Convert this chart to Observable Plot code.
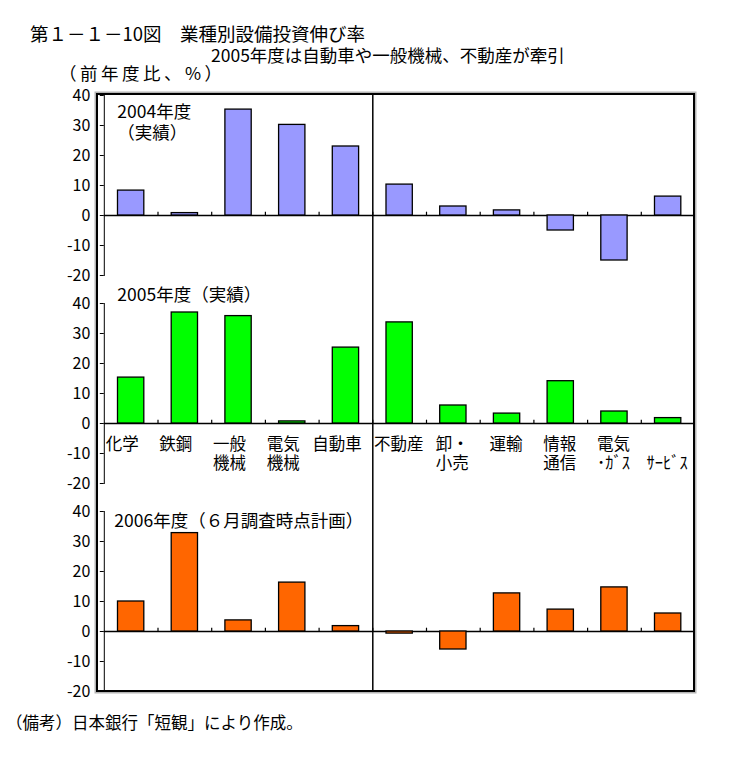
<!DOCTYPE html>
<html><head><meta charset="utf-8">
<script src="https://cdn.jsdelivr.net/npm/d3@7"></script>
<script src="https://cdn.jsdelivr.net/npm/@observablehq/plot@0.6"></script>
<style>
body{margin:0;background:#fff;}
#wrap{position:relative;width:734px;height:762px;background:#fff;overflow:hidden;font-family:"Noto Sans CJK JP",sans-serif;color:#000;}
.t{position:absolute;white-space:pre;line-height:1;}
</style></head><body>
<div id="wrap">
<div class="t" style="left:30px;top:24px;font-size:18.5px;">第１－１－10図　業種別設備投資伸び率</div>
<div class="t" style="left:211px;top:46px;font-size:17.5px;">2005年度は自動車や一般機械、不動産が牽引</div>
<div class="t" style="left:59px;top:64px;font-size:17.5px;letter-spacing:3.5px;">（前年度比、%）</div>
<div id="chart" style="position:absolute;left:0;top:0"></div>
<div id="frame" style="position:absolute;left:96px;top:92.5px;width:599px;height:599px;box-sizing:border-box;border:2px solid #000;box-shadow:0 0 0 1.5px #b4b4b4;pointer-events:none;"></div>
<div class="t" style="left:6px;top:714px;font-size:16.5px;">（備考）日本銀行「短観」により作成。</div>
</div>
<script>
const years = ["2004", "2005", "2006"];
const categories = ["化学", "鉄鋼", "一般機械", "電気機械", "自動車", "不動産", "卸・小売", "運輸", "情報通信", "電気・ガス", "サービス"];
const categoryLabels = ["化学", "鉄鋼", "一般\n機械", "電気\n機械", "自動車", "不動産", "卸・\n小売", "運輸", "情報\n通信", "電気\n･ｶﾞｽ", "\nｻｰﾋﾞｽ"];
const v2004 = [8.3, 0.8, 35.3, 30.2, 23.0, 10.3, 3.0, 1.7, -5.0, -15.0, 6.3];
const v2005 = [15.3, 37.0, 35.8, 0.7, 25.3, 33.7, 6.0, 3.3, 14.1, 4.0, 1.8];
const v2006 = [10.0, 32.8, 3.7, 16.3, 1.8, -0.7, -6.0, 12.7, 7.3, 14.7, 6.0];
const yearColors = ["#9999ff", "#00ff00", "#ff6600"];
const yearTitles = ["2004年度\n（実績）", "2005年度（実績）", "2006年度（６月調査時点計画）"];
const yTicks = [-20, -10, 0, 10, 20, 30, 40];
const groupSplit = 4.5; // between 自動車 and 不動産

const series = [v2004, v2005, v2006];
const rows = years.flatMap((yr, k) => categories.map((c, i) => ({year: yr, i, category: c, value: series[k][i]})));
const boundaries = years.flatMap(yr => d3.range(categories.length - 1).map(i => ({year: yr, b: i + 0.5})));
const labelRows = categories.map((c, i) => ({year: "2005", i, label: categoryLabels[i]}));
const leftLabels = labelRows.filter(d => d.i < groupSplit);
const rightLabels = labelRows.filter(d => d.i > groupSplit);

const txtFont = "Noto Sans CJK JP";

const chart = Plot.plot({
  width: 734,
  height: 762,
  marginTop: 93.3,
  marginBottom: 70,
  marginLeft: 103.8,
  marginRight: 39.5,
  style: {fontFamily: txtFont, fontSize: "16px", background: "transparent", color: "#000"},
  x: {domain: [-0.5, categories.length - 0.5], axis: null},
  y: {domain: [-20, 40], ticks: yTicks, tickFormat: d => `${d}`, tickSize: 4, tickPadding: 10, label: null, line: true, nice: false},
  fy: {domain: years, paddingInner: 0.134, paddingOuter: 0, axis: null, label: null},
  color: {domain: years, range: yearColors},
  marks: [
    Plot.ruleY(years, {y: () => 0, fy: d => d, stroke: "#000", strokeWidth: 1.5}),
    Plot.ruleX(boundaries, {x: "b", y1: () => 0, y2: () => 1.1, fy: "year", stroke: "#000", strokeWidth: 1.2}),
    Plot.ruleX(years, {x: () => groupSplit, fy: d => d,
      y1: d => d === years[0] ? 40 : 44.7, y2: d => d === years[2] ? -20 : -24.7,
      stroke: "#000", strokeWidth: 1.5}),
    Plot.rect(rows, {x1: d => d.i - 0.245, x2: d => d.i + 0.245, y1: () => 0, y2: "value", fy: "year",
      fill: "year", stroke: "#000", strokeWidth: 1.3}),
    Plot.text([yearTitles[0]], {fy: () => years[0], text: d => d, frameAnchor: "top-left", textAnchor: "start", lineAnchor: "top",
      dx: 13, dy: 8, fontSize: 17.5, lineHeight: 1.2}),
    Plot.text([yearTitles[1]], {fy: () => years[1], text: d => d, frameAnchor: "top-left", textAnchor: "start", lineAnchor: "top",
      dx: 13, dy: -15, fontSize: 17.5}),
    Plot.text([yearTitles[2]], {fy: () => years[2], text: d => d, frameAnchor: "top-left", textAnchor: "start", lineAnchor: "top",
      dx: 10, dy: 3, fontSize: 17.5}),
    Plot.text(leftLabels, {x: "i", y: () => 0, fy: "year", text: "label", lineAnchor: "top", textAnchor: "middle",
      dx: -9, dy: 12, fontSize: 16.5, lineHeight: 1.2}),
    Plot.text(rightLabels, {x: "i", y: () => 0, fy: "year", text: "label", lineAnchor: "top", textAnchor: "middle",
      dx: -1, dy: 12, fontSize: 16.5, lineHeight: 1.2})
  ]
});
document.getElementById("chart").appendChild(chart);
</script>
</body></html>
